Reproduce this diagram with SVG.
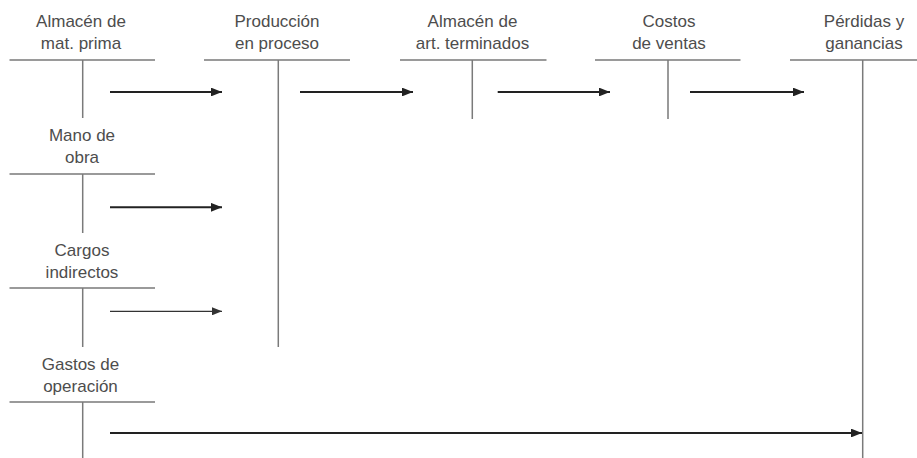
<svg xmlns="http://www.w3.org/2000/svg" width="917" height="458" viewBox="0 0 917 458">
<style>
.t{font-family:"Liberation Sans",Arial,sans-serif;font-size:17px;fill:#4d4d4d;text-anchor:middle}
.acc{stroke:#7a7a7a;stroke-width:1.5;fill:none}
.arr{stroke:#222;stroke-width:2;fill:none;marker-end:url(#ah)}
.arr2{stroke:#333;stroke-width:1.3;fill:none;marker-end:url(#ah2)}
</style>
<defs>
<marker id="ah" viewBox="0 0 10 8" refX="10" refY="4" markerWidth="5.5" markerHeight="4.4" orient="auto" markerUnits="strokeWidth">
<path d="M0,0 L10,4 L0,8 Z" fill="#222"/>
</marker>
<marker id="ah2" viewBox="0 0 10 8" refX="10" refY="4" markerWidth="8" markerHeight="6.4" orient="auto" markerUnits="strokeWidth">
<path d="M0,0 L10,4 L0,8 Z" fill="#333"/>
</marker>
</defs>
<rect width="917" height="458" fill="#fff"/>
<g id="mat-prima">
<text class="t" x="81" y="26.5">Almacén de</text>
<text class="t" x="81" y="48.5">mat. prima</text>
<path class="acc" d="M9.5,60H155M82.7,60V118"/>
</g>
<g id="produccion">
<text class="t" x="277" y="26.5">Producción</text>
<text class="t" x="277" y="48.5">en proceso</text>
<path class="acc" d="M204,60H350M278.3,60V347"/>
</g>
<g id="art-terminados">
<text class="t" x="472.5" y="26.5">Almacén de</text>
<text class="t" x="472.5" y="48.5">art. terminados</text>
<path class="acc" d="M400,60H546.5M472.3,60V119"/>
</g>
<g id="costos-ventas">
<text class="t" x="669" y="26.5">Costos</text>
<text class="t" x="669" y="48.5">de ventas</text>
<path class="acc" d="M595,60H740.5M668,60V119"/>
</g>
<g id="perdidas-ganancias">
<text class="t" x="864" y="26.5">Pérdidas y</text>
<text class="t" x="864" y="48.5">ganancias</text>
<path class="acc" d="M790,60H917M862.7,60V458"/>
</g>
<g id="mano-obra">
<text class="t" x="82" y="140.7">Mano de</text>
<text class="t" x="82" y="162.7">obra</text>
<path class="acc" d="M9.5,174H155M82.7,174V233"/>
</g>
<g id="cargos-indirectos">
<text class="t" x="82" y="256">Cargos</text>
<text class="t" x="82" y="277.7">indirectos</text>
<path class="acc" d="M9.5,288H155M82.7,288V347"/>
</g>
<g id="gastos-operacion">
<text class="t" x="80.5" y="370">Gastos de</text>
<text class="t" x="80.5" y="391.7">operación</text>
<path class="acc" d="M9.5,402H155M82.7,402V458"/>
</g>
<g id="connectors">
<line class="arr" x1="110" y1="92" x2="222" y2="92"/>
<line class="arr" x1="300" y1="92" x2="413" y2="92"/>
<line class="arr" x1="497.7" y1="92" x2="610" y2="92"/>
<line class="arr" x1="690" y1="92" x2="804" y2="92"/>
<line class="arr" x1="110" y1="207.3" x2="222" y2="207.3"/>
<line class="arr2" x1="110" y1="311.3" x2="222" y2="311.3"/>
<line class="arr" x1="110" y1="433" x2="862" y2="433"/>
</g>
</svg>
